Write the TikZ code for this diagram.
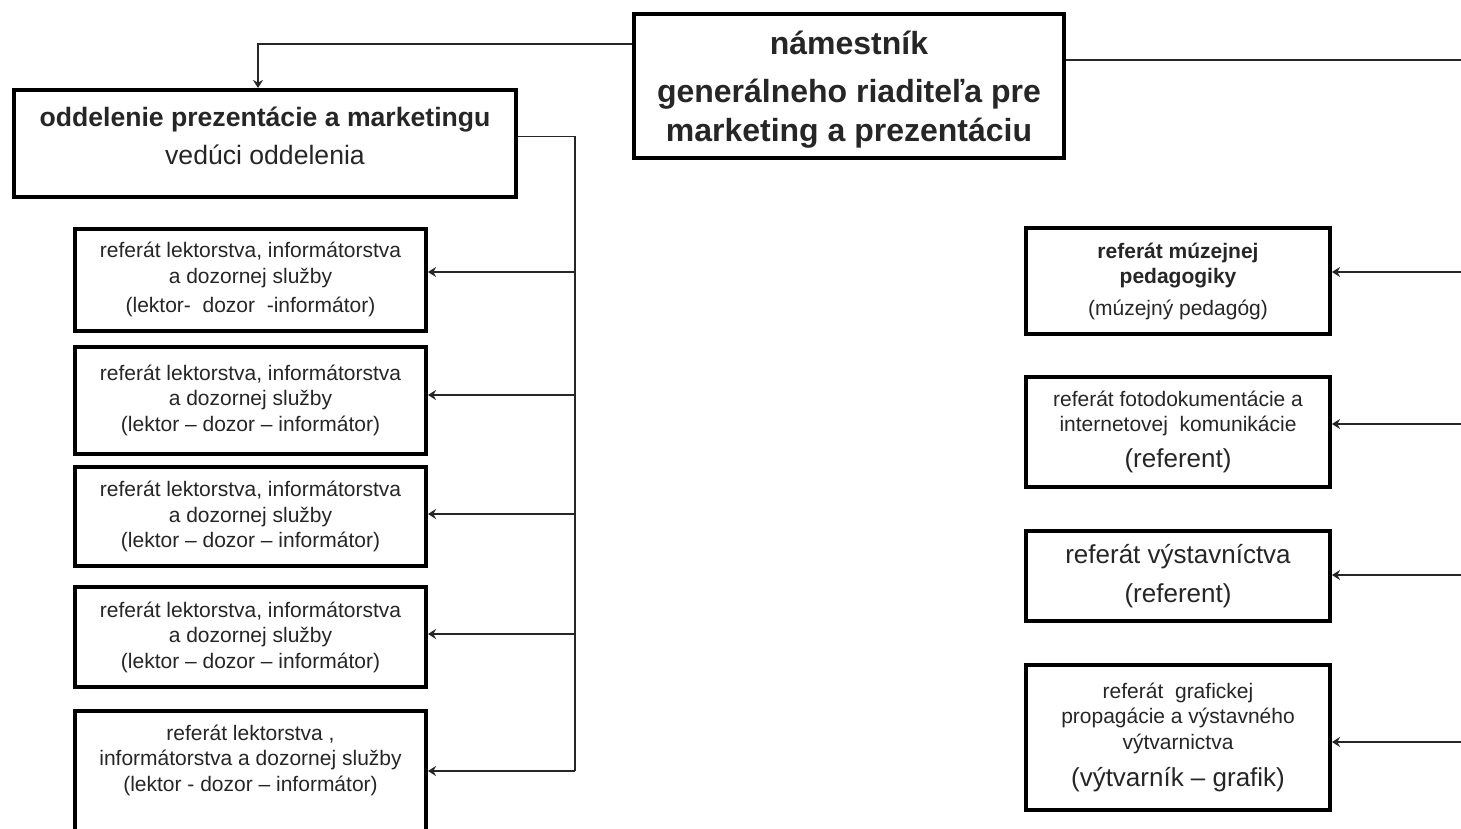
\documentclass[tikz,border=0pt]{standalone}
\usepackage{fontspec}
\setmainfont{Liberation Sans}
\usetikzlibrary{positioning,calc,arrows.meta}

\begin{document}
\begin{tikzpicture}[
    x=0.5pt, y=-0.5pt,
    unitbox/.style={rectangle, draw=black, line width=2pt, fill=white, align=center, text=black!85, inner sep=2pt},
    small/.style={font=\fontsize{10.5}{12.75}\selectfont},
    large/.style={font=\fontsize{13}{19.5}\selectfont},
    link/.style={line width=0.8pt, black!85},
    feed/.style={link, -{Stealth[length=4pt, width=5pt]}}
]
    \useasboundingbox (0,0) rectangle (1461,829);

    % head of the section
    \node[unitbox, line width=2.4pt, minimum width=215pt, minimum height=72pt, text depth=0pt,
          font=\fontsize{16}{19.3}\selectfont\bfseries] (boss) at (849,86)
        {námestník\\[4.8pt] generálneho riaditeľa pre\\ marketing a prezentáciu};

    % department
    \node[unitbox, minimum width=251pt, minimum height=53.5pt, text depth=8pt,
          font=\fontsize{13.3}{19}\selectfont] (dept) at (265,143.5)
        {\textbf{oddelenie prezentácie a marketingu}\\ vedúci oddelenia};

    % left column
    \node[unitbox, small, minimum width=175.5pt, minimum height=51pt] (lek1) at (250.5,279.5)
        {referát lektorstva, informátorstva\\ a dozornej služby\\[2pt] (lektor-\ \ dozor\ \ -informátor)};
    \node[unitbox, small, minimum width=175.5pt, minimum height=53.5pt] (lek2) at (250.5,400)
        {referát lektorstva, informátorstva\\ a dozornej služby\\ (lektor – dozor – informátor)};
    \node[unitbox, small, minimum width=175.5pt, minimum height=49.5pt] (lek3) at (250.5,516.5)
        {referát lektorstva, informátorstva\\ a dozornej služby\\ (lektor – dozor – informátor)};
    \node[unitbox, small, minimum width=175.5pt, minimum height=50pt] (lek4) at (250.5,637)
        {referát lektorstva, informátorstva\\ a dozornej služby\\ (lektor – dozor – informátor)};
    \node[unitbox, small, minimum width=175.5pt, inner ysep=7pt, text depth=22pt, anchor=north] (lek5) at (250.5,709)
        {referát lektorstva ,\\ informátorstva a dozornej služby\\ (lektor - dozor – informátor)};

    % right column
    \node[unitbox, small, minimum width=152pt, minimum height=53pt] (ped) at (1178,281)
        {\textbf{referát múzejnej}\\ \textbf{pedagogiky}\\[3pt] (múzejný pedagóg)};
    \node[unitbox, small, minimum width=152pt, minimum height=55pt] (foto) at (1178,431.5)
        {referát fotodokumentácie a\\ internetovej\ \ komunikácie\\[5pt] {\fontsize{13}{15}\selectfont(referent)}};
    \node[unitbox, large, minimum width=152pt, minimum height=45pt] (vyst) at (1178,576)
        {referát výstavníctva\\ (referent)};
    \node[unitbox, small, minimum width=152pt, minimum height=72.5pt] (graf) at (1178,737.5)
        {referát\ \ grafickej\\ propagácie a výstavného\\ výtvarnictva\\[6pt] {\fontsize{13}{15}\selectfont(výtvarník – grafik)}};

    % trunks
    \coordinate (lbus) at (575,771);
    \coordinate (rbus) at (1461,60);

    \draw[feed] ([yshift=21pt]boss.west) -| ([xshift=-3.5pt]dept.north);
    \draw[link] ([yshift=13pt]boss.east) -- (rbus);
    \draw[link] ([yshift=3.5pt]dept.east) -| (lbus);

    \foreach \n/\d in {lek1/-7.5,lek2/-5,lek3/-2.5,lek4/-3}
        \draw[feed] ($(lbus |- \n.east)+(0,\d)$) -- ($(\n.east)+(0,\d)$);
    \draw[feed] (lbus) -- (lbus -| lek5.east);

    \foreach \n/\d in {ped/-9,foto/-7.5,vyst/-1,graf/4.5}
        \draw[feed] ($(rbus |- \n.east)+(0,\d)$) -- ($(\n.east)+(0,\d)$);
\end{tikzpicture}
\end{document}
